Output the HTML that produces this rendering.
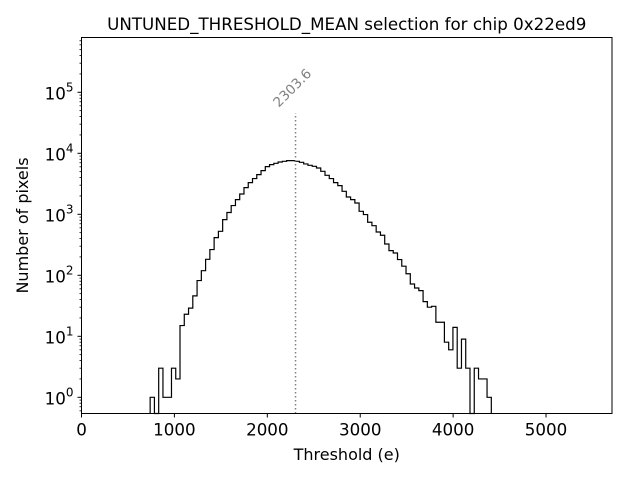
<!DOCTYPE html>
<html><head><meta charset="utf-8"><style>
body{margin:0;background:#fff}
svg text{font-family:"DejaVu Sans","Liberation Sans",sans-serif}
</style></head><body>
<svg id="chart" width="640" height="480" xmlns="http://www.w3.org/2000/svg"></svg>
<script>
const binStart = 739;
const binWidth = 45.9;
const counts = [1,0,3,1,1,3,2,15,23,29,46,82,119,183,264,415,526,819,1070,1390,1740,2150,2740,3310,3850,4470,5200,6040,6520,6850,7200,7390,7590,7590,7390,7120,6690,6350,6120,5740,5070,4360,3850,3310,2950,2380,1920,1740,1530,1120,990,740,650,513,453,326,254,232,181,141,106,72,62,56,37,30,31,17,17,8,6,14,3,9,3,0,3,2,2,1];
const meanValue = 2303.6;
const xTicks = [0,1000,2000,3000,4000,5000];
const yTickExps = [0,1,2,3,4,5];

const L=81.5,R=612,T=37.5,B=413.5;
const xMin=0,xMax=5710;
const xs=v=>L+(v-xMin)/(xMax-xMin)*(R-L);
const y0=397.3, pd=61;
const ys=v=>v<=0?B:Math.min(B,y0-Math.log10(v)*pd);
const NS='http://www.w3.org/2000/svg';
const svg=document.getElementById('chart');
function mk(t,a,p){const e=document.createElementNS(NS,t);for(const k in a)e.setAttribute(k,a[k]);(p||svg).appendChild(e);return e;}

let d='M'+xs(binStart)+','+B;
counts.forEach((c,i)=>{const x0=xs(binStart+i*binWidth),x1=xs(binStart+(i+1)*binWidth);const y=ys(c);d+=' L'+x0+','+y+' L'+x1+','+y;});
d+=' L'+xs(binStart+counts.length*binWidth)+','+B;
const hist=mk('path',{d:d,fill:'none',stroke:'#000','stroke-width':1.2});



const maxC=Math.max(...counts);
const mx=xs(meanValue);
const topY=ys(maxC*6);
const ml=mk('line',{x1:mx,x2:mx,y1:B,y2:topY,stroke:'#808080','stroke-width':1.5,'stroke-dasharray':'1.5,2.5'});


const lx=mx, ly=topY-22;
const mt=mk('text',{x:lx,y:ly,'font-size':13.5,fill:'#808080',transform:`rotate(-45 ${lx} ${ly})`,'text-anchor':'middle'});
mt.textContent=meanValue.toFixed(1);



const fr=mk('rect',{x:L,y:T,width:R-L,height:B-T,fill:'none',stroke:'#000','stroke-width':1});



xTicks.forEach(v=>{const x=xs(v);
 mk('line',{x1:x,x2:x,y1:B,y2:B+4,stroke:'#000'});
 const t=mk('text',{x:x,y:B+22,'font-size':16.7,'text-anchor':'middle'});t.textContent=v;
 
 
});
yTickExps.forEach(e=>{const y=y0-e*pd;
 mk('line',{x1:L,x2:L-4,y1:y,y2:y,stroke:'#000'});
 const t=mk('text',{x:L-8,y:y+7,'font-size':16.7,'text-anchor':'end'});
 t.innerHTML='10<tspan dy="-8" font-size="12">'+e+'</tspan>';
 
 
});
for(let e=-1;e<=5;e++){for(let m=2;m<=9;m++){const y=y0-(e+Math.log10(m))*pd;if(y<T||y>B)continue;mk('line',{x1:L,x2:L-2,y1:y,y2:y,stroke:'#000','stroke-width':0.8});}}

const ti=mk('text',{x:(L+R)/2,y:30,'font-size':16.7,'text-anchor':'middle'});ti.textContent='UNTUNED_THRESHOLD_MEAN selection for chip 0x22ed9';


const xl=mk('text',{x:(L+R)/2,y:460,'font-size':16,'text-anchor':'middle'});xl.textContent='Threshold (e)';


const yl=mk('text',{x:28,y:(T+B)/2,'font-size':16,'text-anchor':'middle',transform:`rotate(-90 28 ${(T+B)/2})`});yl.textContent='Number of pixels';


</script>
</body></html>
